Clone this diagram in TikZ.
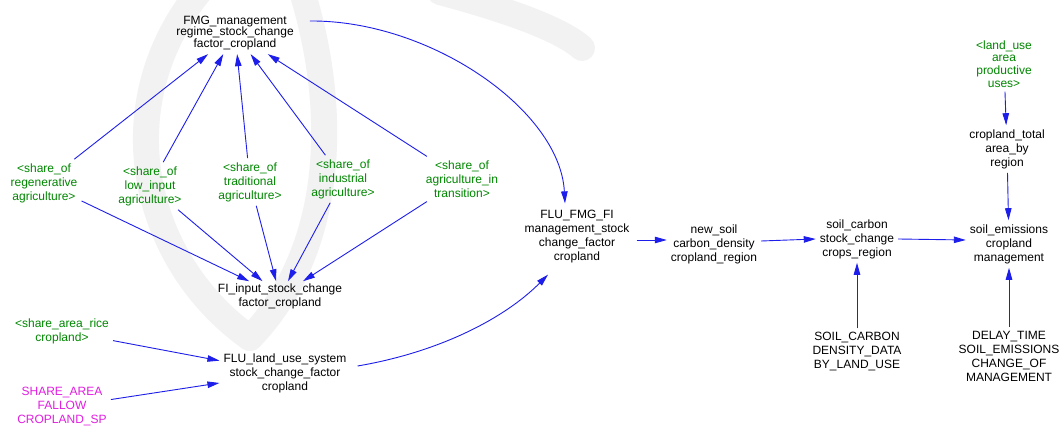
\documentclass[tikz,border=0pt]{standalone}
\usepackage{fontspec}
\setmainfont{Liberation Sans}
\usetikzlibrary{arrows.meta}
\definecolor{linkblue}{RGB}{30,30,235}
\definecolor{shadowgreen}{RGB}{0,135,0}
\definecolor{constmag}{RGB}{225,30,225}
\definecolor{wmgray}{RGB}{242,242,242}

\begin{document}
\begin{tikzpicture}[x=1pt,y=-1pt,
  var/.style={align=center, inner sep=4pt, font=\fontsize{12}{14}\selectfont},
  shadowvar/.style={var, text=shadowgreen},
  constvar/.style={var, text=constmag},
  link/.style={draw=linkblue, line width=0.9pt, -{Triangle[length=12pt,width=6.5pt]}},
  watermark/.style={draw=wmgray, line width=26pt, line cap=round},
]
\useasboundingbox (0,0) rectangle (1063,427);
\fill[white] (0,0) rectangle (1063,427);

% faint background lettering
\draw[watermark] (205,-15) .. controls (105,100) and (140,260) .. (250,338);
\draw[watermark] (250,338) .. controls (335,250) and (340,110) .. (300,-15);
\draw[watermark] (440,-8) .. controls (500,8) and (560,28) .. (582,48);

% variables
\node[var, font=\fontsize{12}{11.5}\selectfont] (fmg) at (235,33)
  {FMG\_management\\regime\_stock\_change\\factor\_cropland};
\node[shadowvar] (regen) at (44,183) {<share\_of\\regenerative\\agriculture>};
\node[shadowvar] (lowin) at (150,186) {<share\_of\\low\_input\\agriculture>};
\node[shadowvar] (trad) at (250,182) {<share\_of\\traditional\\agriculture>};
\node[shadowvar] (indus) at (343,179) {<share\_of\\industrial\\agriculture>};
\node[shadowvar] (trans) at (462,179) {<share\_of\\agriculture\_in\\transition>};
\node[var, inner sep=2pt] (fi) at (280,296) {FI\_input\_stock\_change\\factor\_cropland};
\node[shadowvar] (rice) at (62,331) {<share\_area\_rice\\cropland>};
\node[var] (flu) at (285,373) {FLU\_land\_use\_system\\stock\_change\_factor\\cropland};
\node[constvar] (fallow) at (62,407) {SHARE\_AREA\\FALLOW\\CROPLAND\_SP};
\node[var] (flufmg) at (577,237) {FLU\_FMG\_FI\\management\_stock\\change\_factor\\cropland};
\node[var] (newsoil) at (714,244) {new\_soil\\carbon\_density\\cropland\_region};
\node[var] (scstock) at (857,239) {soil\_carbon\\stock\_change\\crops\_region};
\node[var] (semis) at (1009,244) {soil\_emissions\\cropland\\management};
\node[shadowvar, font=\fontsize{12}{12.7}\selectfont] (landuse) at (1004,64)
  {<land\_use\\area\\productive\\uses>};
\node[var] (crop) at (1007,149) {cropland\_total\\area\_by\\region};
\node[var] (scdata) at (857,352) {SOIL\_CARBON\\DENSITY\_DATA\\BY\_LAND\_USE};
\node[var] (delay) at (1009,356) {DELAY\_TIME\\SOIL\_EMISSIONS\\CHANGE\_OF\\MANAGEMENT};

% each farming share feeds both the regime and the input factor
\foreach \src in {regen,lowin,trad,indus,trans} {
  \draw[link] (\src) -- (fmg);
  \draw[link] (\src) -- (fi);
}
\draw[link] (rice) -- (flu);
\draw[link] (fallow) -- (flu);

% curved links into the combined factor
\draw[link] ([xshift=12pt,yshift=12pt]fmg.east)
  .. controls (430,20) and (560,110) .. ([xshift=-12pt,yshift=3pt]flufmg.north);
\draw[link] ([xshift=7pt,yshift=7pt]flu.east)
  .. controls (440,352) and (505,318) .. ([xshift=-29pt,yshift=-7pt]flufmg.south);

% main chain
\draw[link] ([xshift=3pt,yshift=-3pt]flufmg.east) -- ([yshift=4pt]newsoil.west);
\draw[link] ([yshift=3pt]newsoil.east) -- ([yshift=0pt]scstock.west);
\draw[link] (scstock.east) -- ([yshift=4pt]semis.west);
\draw[link] (landuse) -- (crop);
\draw[link] (crop) -- (semis);
\draw[link] (scdata) -- (scstock);
\draw[link] (delay) -- (semis);
\end{tikzpicture}
\end{document}
